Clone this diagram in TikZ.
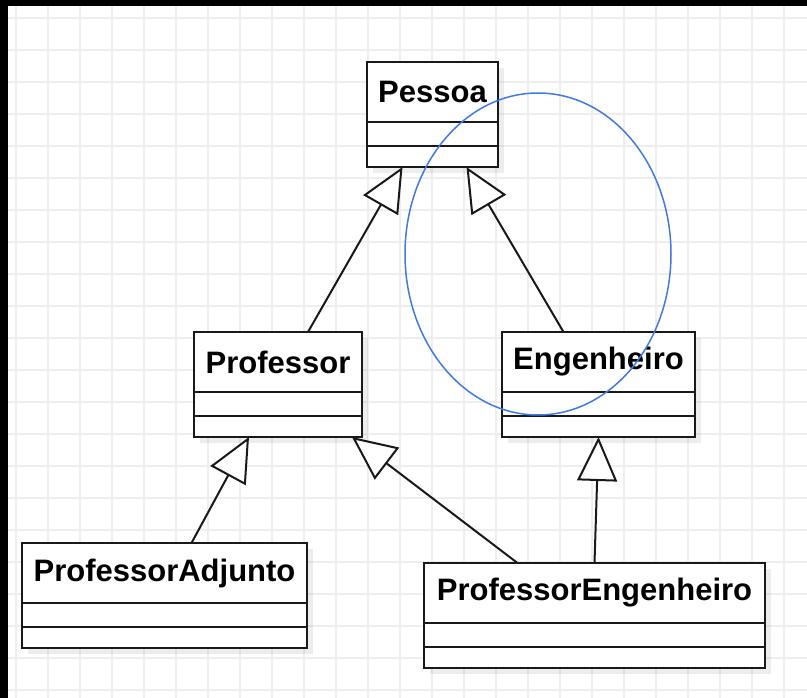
\documentclass[tikz,border=0pt]{standalone}
\usepackage{fontspec}
\setmainfont{Liberation Sans}
\usepackage{xcolor}
\usepackage{tikz}
\usetikzlibrary{arrows.meta, positioning, shadows}
\definecolor{markblue}{RGB}{66,122,224}
\definecolor{gridgray}{RGB}{238,238,238}
\tikzset{
  classhead/.style={
    draw=black!90, line width=2pt, fill=white, inner sep=0pt, outer sep=0pt,
    minimum height=60pt, align=center,
    font=\fontsize{31}{36}\selectfont\bfseries,
    drop shadow={shadow xshift=6pt, shadow yshift=-6pt, fill=black, opacity=0.07}
  },
  classpart/.style={
    draw=black!90, line width=2pt, fill=white, inner sep=0pt, outer sep=0pt,
    drop shadow={shadow xshift=6pt, shadow yshift=-6pt, fill=black, opacity=0.07}
  },
  inheritarrow/.style={
    -{Triangle[length=44pt, width=40pt, fill=white, line join=miter]},
    line width=2pt, draw=black!90
  },
  gridline/.style={draw=gridgray, line width=1.2pt},
  markellipse/.style={draw=markblue, line width=1.5pt},
}

\begin{document}
\begin{tikzpicture}[x=1pt, y=-1pt]
  \useasboundingbox (0,0) rectangle (807,698);
  \fill[white] (0,0) rectangle (807,698);

  % === Grid ===
  \foreach \gx in {16,48,...,800} \draw[gridline] (\gx,0) -- (\gx,698);
  \foreach \gy in {18,50,...,698} \draw[gridline] (0,\gy) -- (807,\gy);

  % === Frame edges ===
  \fill[black] (0,0) rectangle (807,6);
  \fill[black] (0,0) rectangle (8,698);

  % === Classes ===
  \node[classhead, minimum width=131pt] (pessoa) at (432.5, 92) {Pessoa};
  \node[classpart, minimum width=131pt, minimum height=24pt, below=0pt of pessoa] (pessoa-attr) {};
  \node[classpart, minimum width=131pt, minimum height=21pt, below=0pt of pessoa-attr] (pessoa-ops) {};

  \node[classhead, minimum width=168pt] (prof) at (278, 362) {Professor};
  \node[classpart, minimum width=168pt, minimum height=24pt, below=0pt of prof] (prof-attr) {};
  \node[classpart, minimum width=168pt, minimum height=21pt, below=0pt of prof-attr] (prof-ops) {};

  \node[classhead, minimum width=193pt] (eng) at (598.5, 362) {Engenheiro};
  \node[classpart, minimum width=193pt, minimum height=24pt, below=0pt of eng] (eng-attr) {};
  \node[classpart, minimum width=193pt, minimum height=21pt, below=0pt of eng-attr] (eng-ops) {};

  \node[classhead, minimum width=285pt] (adj) at (164.5, 573) {ProfessorAdjunto};
  \node[classpart, minimum width=285pt, minimum height=24pt, below=0pt of adj] (adj-attr) {};
  \node[classpart, minimum width=285pt, minimum height=21pt, below=0pt of adj-attr] (adj-ops) {};

  \node[classhead, minimum width=341pt] (profeng) at (594.5, 593) {ProfessorEngenheiro};
  \node[classpart, minimum width=341pt, minimum height=24pt, below=0pt of profeng] (profeng-attr) {};
  \node[classpart, minimum width=341pt, minimum height=21pt, below=0pt of profeng-attr] (profeng-ops) {};

  % === Generalisations ===
  \draw[inheritarrow] ([xshift=30pt]prof.north) -- ([xshift=-30pt]pessoa-ops.south);
  \draw[inheritarrow] ([xshift=-35pt]eng.north) -- ([xshift=34pt]pessoa-ops.south);
  \draw[inheritarrow] ([xshift=27pt]adj.north) -- ([xshift=-29pt]prof-ops.south);
  \draw[inheritarrow] ([xshift=-77pt]profeng.north) -- ([xshift=74pt]prof-ops.south);
  \draw[inheritarrow] (profeng.north) -- (eng-ops.south);

  % === Highlight ===
  \draw[markellipse] (538,254) ellipse [x radius=133, y radius=161];
\end{tikzpicture}
\end{document}
